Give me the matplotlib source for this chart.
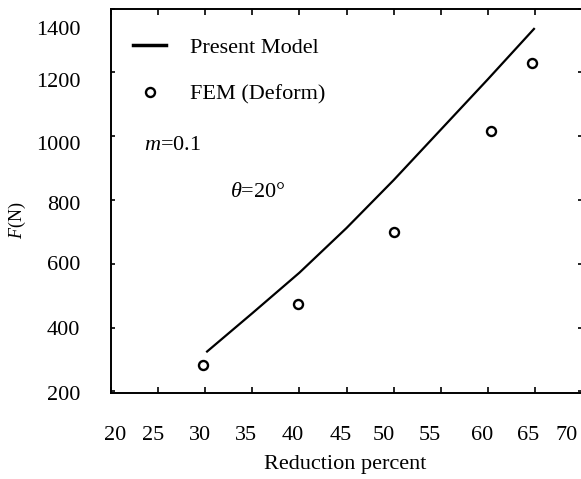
import matplotlib
matplotlib.use("Agg")
import matplotlib.pyplot as plt

plt.rcParams['font.family'] = ['Liberation Serif', 'DejaVu Serif']
plt.rcParams['mathtext.fontset'] = 'custom'
plt.rcParams['mathtext.rm'] = 'Liberation Serif'
plt.rcParams['mathtext.it'] = 'Liberation Serif:italic'

# ---- data ----
model_x = [30.2, 35, 40, 45, 50, 55, 60, 64.9]
model_y = [325, 445, 572, 712, 862, 1020, 1178, 1336]

fem_x = [29.8, 39.9, 50.0, 60.3, 64.7]
fem_y = [284, 475, 700, 1015, 1230]

xtick_marks = [20, 25, 30, 35, 40, 45, 50, 55, 60, 65, 70]
xtick_label_pos = [20.48, 24.46, 29.45, 34.38, 39.32, 44.36, 48.93, 53.86, 59.38, 64.27, 68.41]
xtick_labels = ['20', '25', '30', '35', '40', '45', '50', '55', '60', '65', '70']

ytick_marks = [200, 400, 600, 800, 1000, 1200, 1400]
ytick_label_pos = [195, 400, 603, 790, 977, 1177, 1338]
ytick_labels = ['200', '400', '600', '800', '1000', '1200', '1400']

fig = plt.figure(figsize=(5.81, 4.79), dpi=100)
ax = fig.add_axes([111/581, (479-393)/479, 471/581, 384.5/479])
ax.xaxis.remove_overlapping_locs = False
ax.yaxis.remove_overlapping_locs = False

ax.plot(model_x, model_y, color='black', lw=1.6, label='Present Model')
ax.plot(fem_x, fem_y, linestyle='none', marker='o', markersize=6.5,
        markerfacecolor='white', markeredgecolor='black', markeredgewidth=1.7,
        label='FEM (Deform)')

ax.set_xlim(20, 70)
ax.set_ylim(200, 1400)

for s in ['left', 'top', 'bottom']:
    ax.spines[s].set_linewidth(1.4)
ax.spines['right'].set_visible(False)

ax.set_xticks(xtick_marks, labels=[''] * len(xtick_marks))
ax.set_xticks(xtick_label_pos, labels=xtick_labels, minor=True)
ax.set_yticks(ytick_marks, labels=[''] * len(ytick_marks))
ax.set_yticks(ytick_label_pos, labels=ytick_labels, minor=True)

ax.tick_params(axis='x', which='major', direction='in', length=4, width=1.2, top=True)
ax.tick_params(axis='y', which='major', direction='in', length=3, width=1.2, right=True)
ax.tick_params(axis='x', which='minor', length=0, pad=24, labelsize=16)
ax.tick_params(axis='y', which='minor', length=0, pad=22, labelsize=16)

ax.set_xlabel('Reduction percent', fontsize=16)
ax.xaxis.label.set(va='baseline', ha='center')
ax.xaxis.set_label_coords(0.498, -0.197)

ax.set_ylabel(r'$F$(N)', fontsize=13)
ax.yaxis.label.set(va='center', ha='center')
ax.yaxis.set_label_coords(-0.199, 0.45)

ax.text(26.5, 971, r'$m$=0.1', fontsize=16, ha='center', va='center')
ax.text(35.6, 824, r'$\theta$=20°', fontsize=16, ha='center', va='center')

leg = ax.legend(loc='upper left', bbox_to_anchor=(133/581, 1 - 37/479),
                bbox_transform=fig.transFigure, frameon=False, fontsize=16,
                borderpad=0, borderaxespad=0, handlelength=1.49,
                handletextpad=1.08, labelspacing=1.2)
leg.get_lines()[0].set_linewidth(2.5)

fig.savefig('out.png', dpi=100)
